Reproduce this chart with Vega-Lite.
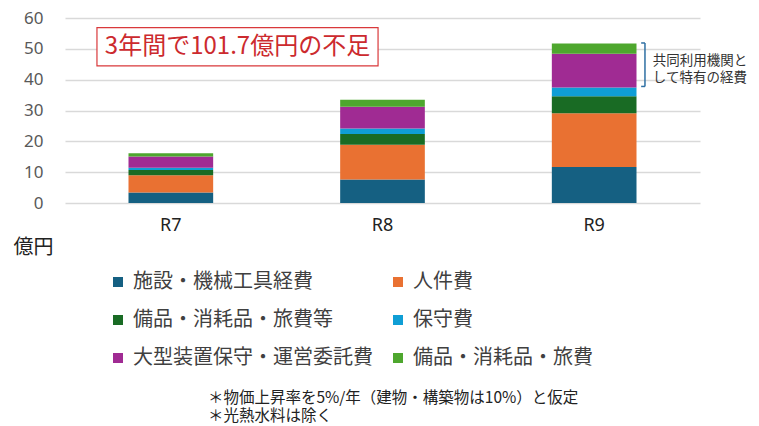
{
  "$schema": "https://vega.github.io/schema/vega-lite/v6.json",
  "width": 635,
  "height": 185,
  "autosize": "none",
  "padding": {"left": 65, "top": 18, "right": 59, "bottom": 223},
  "background": "white",
  "config": {
    "view": {"stroke": null},
    "font": "Noto Sans CJK JP",
    "axisY": {
      "titleAngle": 0,
      "titleX": -52,
      "titleY": 229,
      "titleAlign": "left",
      "titleBaseline": "middle",
      "titleFontSize": 20,
      "titleFont": "Noto Sans CJK JP",
      "titleFontWeight": "normal",
      "titleColor": "#222222",
      "labelFontSize": 17,
      "labelColor": "#595959",
      "labelFont": "Noto Sans",
      "labelPadding": 22,
      "labelOverlap": false,
      "ticks": false,
      "tickSize": 0,
      "domain": false,
      "grid": true,
      "gridColor": "#d9d9d9",
      "gridWidth": 1.5
    },
    "legend": {
      "symbolType": "square",
      "symbolSize": 100,
      "symbolStrokeWidth": 0,
      "labelFontSize": 20,
      "labelFont": "Noto Sans CJK JP",
      "labelColor": "#404040",
      "labelLimit": 400,
      "labelOffset": 5,
      "columnPadding": 15,
      "rowPadding": 18
    }
  },
  "datasets": {
    "costs": [
      {"year": "R7", "cat": "施設・機械工具経費", "rank": 1, "value": 3.4},
      {"year": "R7", "cat": "人件費", "rank": 2, "value": 5.6},
      {"year": "R7", "cat": "備品・消耗品・旅費等", "rank": 3, "value": 1.7},
      {"year": "R7", "cat": "保守費", "rank": 4, "value": 0.75},
      {"year": "R7", "cat": "大型装置保守・運営委託費", "rank": 5, "value": 3.6},
      {"year": "R7", "cat": "備品・消耗品・旅費", "rank": 6, "value": 1.1},
      {"year": "R8", "cat": "施設・機械工具経費", "rank": 1, "value": 7.6},
      {"year": "R8", "cat": "人件費", "rank": 2, "value": 11.3},
      {"year": "R8", "cat": "備品・消耗品・旅費等", "rank": 3, "value": 3.5},
      {"year": "R8", "cat": "保守費", "rank": 4, "value": 1.8},
      {"year": "R8", "cat": "大型装置保守・運営委託費", "rank": 5, "value": 7.0},
      {"year": "R8", "cat": "備品・消耗品・旅費", "rank": 6, "value": 2.3},
      {"year": "R9", "cat": "施設・機械工具経費", "rank": 1, "value": 11.7},
      {"year": "R9", "cat": "人件費", "rank": 2, "value": 17.4},
      {"year": "R9", "cat": "備品・消耗品・旅費等", "rank": 3, "value": 5.5},
      {"year": "R9", "cat": "保守費", "rank": 4, "value": 2.9},
      {"year": "R9", "cat": "大型装置保守・運営委託費", "rank": 5, "value": 10.9},
      {"year": "R9", "cat": "備品・消耗品・旅費", "rank": 6, "value": 3.3}
    ]
  },
  "layer": [
    {
      "data": {"name": "costs"},
      "mark": {"type": "bar"},
      "encoding": {
        "x": {
          "field": "year",
          "type": "nominal",
          "scale": {"paddingInner": 0.6, "paddingOuter": 0.3},
          "axis": {
            "title": null,
            "labelAngle": 0,
            "labelFontSize": 18,
            "labelColor": "#222222",
            "labelFont": "Noto Sans",
            "labelPadding": 13,
            "ticks": false,
            "tickSize": 0,
            "domain": false
          }
        },
        "y": {
          "field": "value",
          "type": "quantitative",
          "stack": "zero",
          "scale": {"domain": [0, 60], "nice": false},
          "axis": {"values": [0, 10, 20, 30, 40, 50, 60], "tickCount": 7, "title": "億円"}
        },
        "color": {
          "field": "cat",
          "type": "nominal",
          "scale": {
            "domain": ["施設・機械工具経費", "人件費", "備品・消耗品・旅費等", "保守費", "大型装置保守・運営委託費", "備品・消耗品・旅費"],
            "range": ["#156082", "#E97132", "#196B24", "#0F9ED5", "#A02B93", "#4EA72E"]
          },
          "legend": {
            "title": null,
            "orient": "none",
            "direction": "horizontal",
            "columns": 2,
            "legendX": 43,
            "legendY": 254
          }
        },
        "order": {"field": "rank", "type": "quantitative"}
      }
    },
    {
      "data": {"values": [{"x": 0.151, "x2": 1.479, "y": 44.5, "y2": 56.9}]},
      "mark": {"type": "rect", "fill": "white", "stroke": "#D9393B", "strokeWidth": 1.2},
      "encoding": {
        "x": {"field": "x", "type": "quantitative", "scale": {"domain": [0, 3], "nice": false, "zero": false}, "axis": null},
        "x2": {"field": "x2"},
        "y": {"field": "y", "type": "quantitative", "axis": {"values": [0, 10, 20, 30, 40, 50, 60], "tickCount": 7, "title": "億円"}},
        "y2": {"field": "y2"}
      }
    },
    {
      "data": {"values": [{"x": 0.815, "y": 50.7, "label": "3年間で101.7億円の不足"}]},
      "mark": {"type": "text", "fontSize": 24, "color": "#CC2A2E", "font": "Noto Sans CJK JP", "align": "center", "baseline": "middle"},
      "encoding": {
        "x": {"field": "x", "type": "quantitative", "scale": {"domain": [0, 3], "nice": false, "zero": false}, "axis": null},
        "y": {"field": "y", "type": "quantitative", "axis": {"values": [0, 10, 20, 30, 40, 50, 60], "tickCount": 7, "title": "億円"}},
        "text": {"field": "label"}
      }
    },
    {
      "data": {"values": [
        {"x": 2.74, "x2": 2.74, "y": 37.8, "y2": 51.9},
        {"x": 2.722, "x2": 2.74, "y": 51.9, "y2": 51.9},
        {"x": 2.722, "x2": 2.74, "y": 37.8, "y2": 37.8}
      ]},
      "mark": {"type": "rule", "color": "#2E6FA3", "strokeWidth": 1.5},
      "encoding": {
        "x": {"field": "x", "type": "quantitative", "scale": {"domain": [0, 3], "nice": false, "zero": false}, "axis": null},
        "x2": {"field": "x2"},
        "y": {"field": "y", "type": "quantitative", "axis": {"values": [0, 10, 20, 30, 40, 50, 60], "tickCount": 7, "title": "億円"}},
        "y2": {"field": "y2"}
      }
    },
    {
      "data": {"values": [
        {"x": 2.777, "y": 45.9, "label": "共同利用機関と\nして特有の経費"}
      ]},
      "mark": {"type": "text", "fontSize": 13.5, "lineHeight": 16.5, "lineBreak": "\n", "color": "#333333", "font": "Noto Sans CJK JP", "align": "left", "baseline": "middle"},
      "encoding": {
        "x": {"field": "x", "type": "quantitative", "scale": {"domain": [0, 3], "nice": false, "zero": false}, "axis": null},
        "y": {"field": "y", "type": "quantitative", "axis": {"values": [0, 10, 20, 30, 40, 50, 60], "tickCount": 7, "title": "億円"}},
        "text": {"field": "label"}
      }
    },
    {
      "data": {"values": [
        {"x": 0.675, "y": -63.2, "label": "＊物価上昇率を5%/年（建物・構築物は10%）と仮定\n＊光熱水料は除く"}
      ]},
      "mark": {"type": "text", "fontSize": 15.5, "lineHeight": 18.5, "lineBreak": "\n", "color": "#222222", "font": "Noto Sans CJK JP", "align": "left", "baseline": "middle", "clip": false},
      "encoding": {
        "x": {"field": "x", "type": "quantitative", "scale": {"domain": [0, 3], "nice": false, "zero": false}, "axis": null},
        "y": {"field": "y", "type": "quantitative", "axis": {"values": [0, 10, 20, 30, 40, 50, 60], "tickCount": 7, "title": "億円"}},
        "text": {"field": "label"}
      }
    }
  ],
  "resolve": {"scale": {"x": "independent"}}
}
